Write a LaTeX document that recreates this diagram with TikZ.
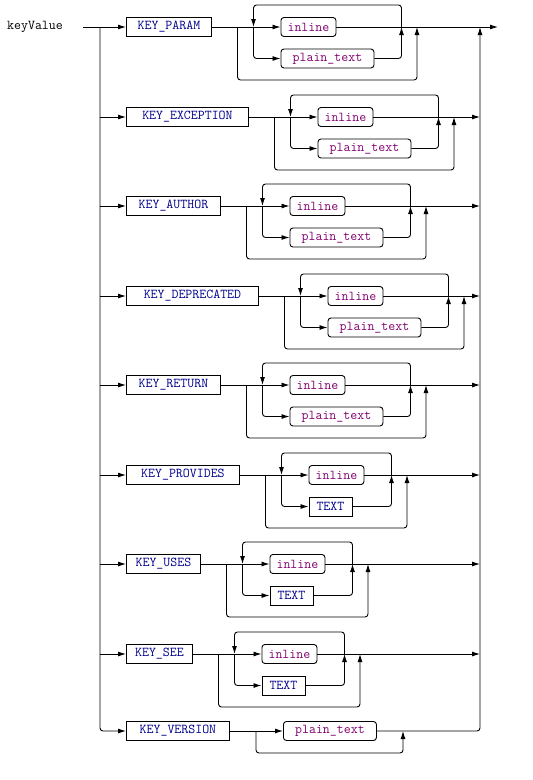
\documentclass[tikz,border=0pt]{standalone}
\usepackage{fontspec}
\usetikzlibrary{arrows.meta}
\definecolor{kwblue}{RGB}{0,0,140}
\definecolor{litpurple}{RGB}{128,0,110}
\newcommand\railfont{\ttfamily\fontsize{13.5pt}{14pt}\selectfont}
\tikzset{
  rr/.style={line width=0.9pt, rounded corners=3pt},
  arr/.style={-{Latex[length=8pt,width=5pt]}},
  boxbase/.style={draw, line width=0.9pt, minimum height=19pt, inner sep=0pt, anchor=west,
    font=\railfont},
  kw/.style={boxbase, rectangle, text=kwblue},
  lit/.style={boxbase, rounded corners=3pt, text=litpurple},
}
\newcommand\railrow[7]{%
  \pgfmathsetmacro\kr{126+#4}%
  \pgfmathsetmacro\bx{\kr+26.5}%
  \pgfmathsetmacro\lx{\bx+16}%
  \pgfmathsetmacro\il{\lx+27}%
  \pgfmathsetmacro\ir{\il+55}%
  \pgfmathsetmacro\sr{\il+#7}%
  \pgfmathsetmacro\jx{max(\ir,\sr)+28}%
  \pgfmathsetmacro\px{\jx+15.5}%
  \node[kw, minimum width=#4pt] (#1k) at (126,#2) {#3};
  \node[lit, minimum width=55pt] (#1i) at (\il,#2) {inline};
  \node[#6, minimum width=#7pt] (#1s) at (\il,#2+31.5) {#5};
  \coordinate (#1b) at (\bx,#2);
  \coordinate (#1l) at (\lx,#2);
  \coordinate (#1j) at (\jx,#2);
  \coordinate (#1p) at (\px,#2);
  \draw[rr,arr] (#1k.east) -- (#1i.west);
  \draw[rr,arr] (#1b) -- ++(0,53) -| (#1p);
  \draw[rr,arr] (#1l) |- (#1s.west);
  \draw[rr,arr] (#1j) -- ++(0,-22) -| (#1l);
  \draw[rr,arr] (#1s.east) -| (#1j);
}
\begin{document}
\begin{tikzpicture}[x=1pt,y=-1pt]
\useasboundingbox (0,0) rectangle (533,780);
\node[anchor=west, inner sep=0pt, font=\railfont] (kv) at (7,27) {keyValue};
\coordinate (start) at (83,27);
\coordinate (ltop) at (100,27);
\coordinate (rtop) at (480,27);
\coordinate (endp) at (498,27);

\railrow{a}{27}{KEY\_PARAM}{85}{plain\_text}{lit}{93}
\railrow{b}{117}{KEY\_EXCEPTION}{122}{plain\_text}{lit}{93}
\railrow{c}{206}{KEY\_AUTHOR}{94}{plain\_text}{lit}{93}
\railrow{d}{296}{KEY\_DEPRECATED}{132}{plain\_text}{lit}{93}
\railrow{e}{385}{KEY\_RETURN}{94}{plain\_text}{lit}{93}
\railrow{f}{475}{KEY\_PROVIDES}{113}{TEXT}{kw}{43}
\railrow{g}{564}{KEY\_USES}{74}{TEXT}{kw}{43}
\railrow{h}{654}{KEY\_SEE}{66}{TEXT}{kw}{43}

% last row
\node[kw, minimum width=103pt] (vk) at (126,731) {KEY\_VERSION};
\node[lit, minimum width=93pt] (vp) at (283,731) {plain\_text};
\coordinate (vb) at (256,731);
\coordinate (vj) at (403,731);
\draw[rr,arr] (vk.east) -- (vp.west);
\draw[rr,arr] (vb) -- ++(0,22) -| (vj);

% trunks
\draw[rr,arr] (start) -- (ak.west);
\draw[rr,arr] (ltop) |- (vk.west);
\foreach \r/\y in {b/117,c/206,d/296,e/385,f/475,g/564,h/654}
  \draw[rr,arr] (100,\y) -- (\r k.west);
\draw[rr,arr] (ai.east) -- (endp);
\foreach \r/\y in {b/117,c/206,d/296,e/385,f/475,g/564,h/654}
  \draw[rr,arr] (\r i.east) -- (480,\y);
\draw[rr,arr] (vp.east) -| (rtop);
\end{tikzpicture}
\end{document}
